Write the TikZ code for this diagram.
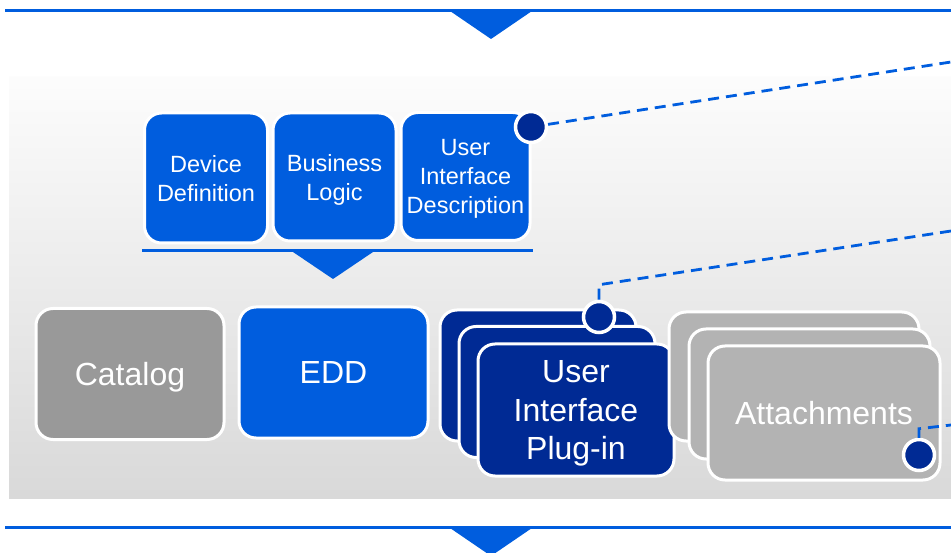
\documentclass[tikz,border=0pt]{standalone}
\usepackage{fontspec}
\setmainfont{Liberation Sans}
\definecolor{fdtblue}{HTML}{005DDE}
\definecolor{fdtdark}{HTML}{002A94}
\definecolor{fdtgray}{HTML}{999999}
\definecolor{fdtlight}{HTML}{B3B3B3}

\begin{document}
\begin{tikzpicture}[x=1pt, y=-1pt,
    card/.style={draw=white, line width=3pt, rounded corners=17pt, text=white, align=center, inner sep=0pt, text depth=0pt},
    small/.style={card, fill=fdtblue, minimum width=123, minimum height=128, font=\fontsize{23.5}{29}\selectfont},
    big/.style={card, minimum height=131, font=\fontsize{32}{38.5}\selectfont},
    dot/.style={circle, draw=white, line width=3.5pt, fill=fdtdark, minimum size=31, inner sep=0pt},
    link/.style={draw=fdtblue, line width=2.8pt, dash pattern=on 11pt off 7pt}]

    % Fix the page and draw the shaded band
    \useasboundingbox (0,0) rectangle (951,553);
    \shade[top color=white!99!black, bottom color=black!15] (9,77) rectangle (951,498);

    % Draw the top and bottom rules with their arrows
    \draw[fdtblue, line width=3pt] (5,10.5) -- (951,10.5);
    \fill[fdtblue] (450,11) -- (532,11) -- (491,39) -- cycle;
    \draw[fdtblue, line width=3pt] (5,527.5) -- (951,527.5);
    \fill[fdtblue] (450,528) -- (532,528) -- (491,556) -- cycle;

    % Draw the three parts of the EDD
    \node[small, minimum height=130] (devdef) at (206,178) {Device\\Definition};
    \node[small] (logic) at (334.5,177) {Business\\Logic};
    \node[small, minimum width=129] (uidesc) at (465.5,176.5) {User\\Interface\\Description};

    % Bracket line and arrow down to the EDD
    \draw[fdtblue, line width=3pt] (142,251) -- (533,251);
    \fill[fdtblue] (293,252) -- (373,252) -- (333,279) -- cycle;

    % Draw the package contents
    \node[big, fill=fdtgray, minimum width=188] (catalog) at (130,374) {Catalog};
    \node[big, fill=fdtblue, minimum width=189] (edd) at (333.5,372.5) {EDD};

    % Stack of plug-in cards
    \node[big, fill=fdtdark, minimum width=196] (plugA) at (538,375.5) {};
    \node[big, fill=fdtdark, minimum width=196] (plugB) at (557,392) {};
    \node[big, fill=fdtdark, minimum width=196, minimum height=132] (plugin) at (576,410) {User\\Interface\\Plug-in};

    % Stack of attachment cards
    \node[big, fill=fdtlight, minimum width=250, minimum height=129] (attA) at (794,376.5) {};
    \node[big, fill=fdtlight, minimum width=241, minimum height=130] (attB) at (809.5,394) {};
    \node[big, fill=fdtlight, minimum width=232, minimum height=134] (attach) at (824,413) {Attachments};

    % Dots and the dashed call-outs
    \node[dot] (uidot) at (531,127) {};
    \node[dot] (plugdot) at (599,317) {};
    \node[dot] (attdot) at (919,455) {};

    \coordinate (uiend) at (951,62);
    \coordinate (plugend) at (951,231);
    \coordinate (attend) at (951,425);
    \draw[link] (uidot) -- (uiend);
    \draw[link] (plugdot.north) -- ++(0,-15) -- (plugend);
    \draw[link] (attdot.north) -- ++(0,-9) -- (attend);

\end{tikzpicture}
\end{document}
